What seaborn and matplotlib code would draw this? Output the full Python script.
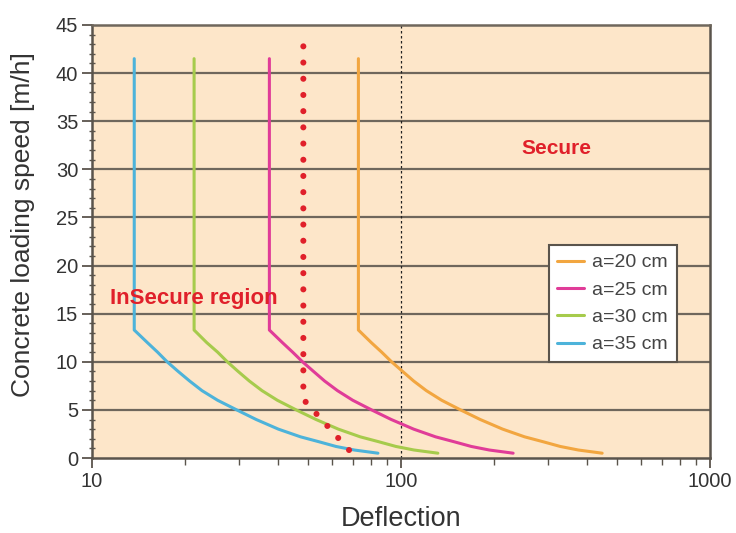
import matplotlib
matplotlib.use("Agg")
import matplotlib.pyplot as plt
import seaborn as sns
import numpy as np
import pandas as pd
from matplotlib.ticker import FixedLocator, NullFormatter, MultipleLocator

# ---- data ----
speed = [41.5, 13.3, 12, 11, 10, 9, 8, 7, 6, 5, 4, 3, 2.2, 1.7, 1.2, 0.83, 0.5]
defl_a20 = [72.8, 72.8, 80.1, 86.6, 93.2, 101.2, 109.9, 120.8, 135.4, 155.8, 180.5, 213.3, 251.2, 287.6, 327.6, 374.9, 447.7]
defl_a25 = [37.5, 37.5, 41.3, 44.6, 48.0, 52.1, 56.6, 62.3, 69.8, 80.3, 93.0, 109.9, 129.4, 148.1, 168.8, 193.1, 230.6]
defl_a30 = [21.4, 21.4, 23.5, 25.5, 27.4, 29.7, 32.3, 35.5, 39.8, 45.8, 53.1, 62.7, 73.8, 84.5, 96.3, 110.2, 131.6]
defl_a35 = [13.7, 13.7, 15.1, 16.3, 17.5, 19.0, 20.7, 22.7, 25.5, 29.4, 34.0, 40.1, 47.3, 54.1, 61.6, 70.6, 84.2]
labels = ["a=20 cm", "a=25 cm", "a=30 cm", "a=35 cm"]
colors = ["#F2A640", "#E03C98", "#A6CB4C", "#4DB3DA"]

# limit (dotted) line, listed from its bottom end upwards
limit_defl = [67.9, 48.3, 48.3]
limit_speed = [0.83, 6.1, 43.8]

x_ticks = [10, 100, 1000]
x_ticklabels = ["10", "100", "1000"]
y_ticks = [0, 5, 10, 15, 20, 25, 30, 35, 40, 45]

sns.set_theme(style="ticks")
plt.rcParams['font.family'] = ['Liberation Sans', 'DejaVu Sans']

fig = plt.figure(figsize=(7.36, 5.33), dpi=100)
ax = fig.add_axes([92/736, 1-458/533, (710-92)/736, (458-25)/533])
ax.set_facecolor("#FDE6C9")

grid_c = "#6F675C"
for yv in y_ticks[1:-1]:
    ax.axhline(yv, color=grid_c, lw=1.6, zorder=1)
ax.axvline(100, color="#222222", lw=0.9, ls=(0, (2, 2)), zorder=1)

series = [defl_a20, defl_a25, defl_a30, defl_a35]
for vals, lab, col in zip(series, labels, colors):
    df = pd.DataFrame({"Deflection": vals, "speed": speed})
    sns.lineplot(data=df, x="Deflection", y="speed", sort=False, estimator=None,
                 color=col, lw=2.2, label=lab, ax=ax, zorder=3)

df_lim = pd.DataFrame({"Deflection": limit_defl, "speed": limit_speed})
sns.lineplot(data=df_lim, x="Deflection", y="speed", sort=False, estimator=None,
             color="#E0202A", lw=4.4, ax=ax, zorder=4)
limline = ax.get_lines()[-1]
limline.set_linestyle((0, (0.001, 2.65)))
limline.set_dash_capstyle("round")

ax.set_xscale("log")
ax.set_xlim(10, 1000)
ax.set_ylim(0, 45)
ax.xaxis.set_major_locator(FixedLocator(x_ticks))
ax.set_xticklabels(x_ticklabels)
ax.xaxis.set_minor_locator(FixedLocator([v * d for d in (10, 100) for v in range(2, 10)]))
ax.xaxis.set_minor_formatter(NullFormatter())
ax.set_yticks(y_ticks)
ax.yaxis.set_minor_locator(MultipleLocator(1))

spine_c = "#5A544C"
for s in ["left", "bottom", "right", "top"]:
    ax.spines[s].set_color(spine_c)
    ax.spines[s].set_linewidth(1.8)
ax.spines["top"].set_color(grid_c)

ax.tick_params(axis="both", which="major", labelsize=14.5, color=spine_c,
               length=7, width=1.3, direction="out", labelcolor="#333333", pad=3)
ax.tick_params(axis="both", which="minor", color=spine_c, length=5, width=1.0, direction="out")
ax.tick_params(axis="y", which="minor", length=4, direction="inout")

ax.set_xlabel("Deflection", fontsize=19.5, color="#333333", labelpad=11)
ax.set_ylabel("Concrete loading speed [m/h]", fontsize=19, color="#333333")
ax.yaxis.set_label_coords(-0.092, 0.538)

ax.text(318, 32.2, "Secure", color="#E0202A", fontsize=15, fontweight="bold",
        ha="center", va="center", zorder=5)
ax.text(11.4, 16.6, "InSecure region", color="#E0202A", fontsize=16, fontweight="bold",
        ha="left", va="center", zorder=5)

leg = ax.legend(loc="upper right", bbox_to_anchor=(0.946, 0.492), borderaxespad=0,
                fontsize=14, frameon=True, fancybox=False, framealpha=1,
                handlelength=1.35, handletextpad=0.45, labelspacing=0.5,
                borderpad=0.45, facecolor="white", edgecolor=spine_c)
leg.get_frame().set_linewidth(1.5)
for t in leg.get_texts():
    t.set_color("#444444")
leg.set_zorder(6)

fig.savefig("out.png", dpi=100, facecolor="white")
